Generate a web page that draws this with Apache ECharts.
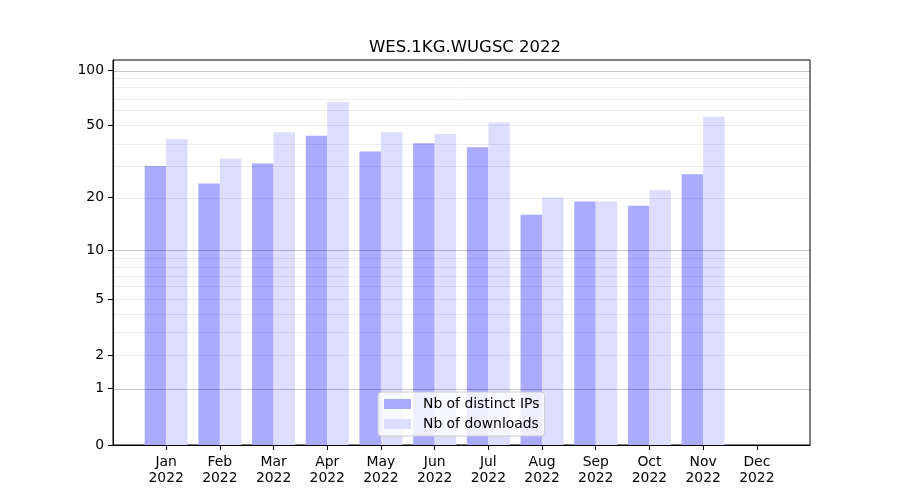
<!DOCTYPE html>
<html>
<head>
<meta charset="utf-8">
<script src="https://cdn.jsdelivr.net/npm/echarts@6/dist/echarts.min.js"></script>
<style>html,body{margin:0;padding:0;background:#fff}#c{width:900px;height:500px}</style>
</head>
<body>
<div id="c"></div>
<script>
const titleText = 'WES.1KG.WUGSC 2022';
const months = ['Jan','Feb','Mar','Apr','May','Jun','Jul','Aug','Sep','Oct','Nov','Dec'];
const year = '2022';
const distinctIPs = [30, 24, 31, 44, 36, 40, 38, 16, 19, 18, 27, 0];
const downloads   = [42, 33, 46, 67, 46, 45, 52, 20, 19, 22, 56, 0];
const yTickLabels = [0, 1, 2, 5, 10, 20, 50, 100];
const majorGrid = [1, 10, 100];
const minorGrid = [2, 3, 4, 5, 6, 7, 8, 9, 20, 30, 40, 50, 60, 70, 80, 90];

// y scale: log10(v + 1)
const t = v => Math.log10(v + 1);
const FONT = 'DejaVu Sans';

const chart = echarts.init(document.getElementById('c'), null, {renderer: 'canvas'});
const gridLines = [];
minorGrid.forEach(v => gridLines.push({yAxis: t(v), lineStyle: {color: 'rgba(0,0,0,0.07)', width: 1, type: 'solid'}}));
majorGrid.forEach(v => gridLines.push({yAxis: t(v), lineStyle: {color: 'rgba(0,0,0,0.22)', width: 1, type: 'solid'}}));

chart.setOption({
  animation: false,
  title: {
    text: titleText, left: 460, top: 34, textAlign: 'center',
    textStyle: {fontFamily: FONT, fontSize: 16.5, fontWeight: 'normal', color: '#000'}
  },
  grid: {left: 113, right: 90, top: 60, bottom: 55, show: true, borderColor: '#000', borderWidth: 1, backgroundColor: 'transparent'},
  legend: {
    orient: 'vertical', left: 378, top: 392,
    data: ['Nb of distinct IPs', 'Nb of downloads'],
    icon: 'rect', itemWidth: 27, itemHeight: 10, itemGap: 6,
    padding: [5, 5, 5, 6],
    backgroundColor: 'rgba(255,255,255,0.8)', borderColor: '#cccccc', borderWidth: 1, borderRadius: 3,
    textStyle: {fontFamily: FONT, fontSize: 13.9, color: '#000', padding: [0, 0, 0, 7]}
  },
  xAxis: {
    type: 'value', min: -0.99, max: 11.99,
    axisLine: {show: true, onZero: false, lineStyle: {color: '#000', width: 1}},
    axisTick: {show: true, length: 5, lineStyle: {color: '#000'}, customValues: months.map((m, i) => i)},
    axisLabel: {
      margin: 9, fontFamily: FONT, fontSize: 13.9, color: '#000', lineHeight: 16,
      customValues: months.map((m, i) => i),
      formatter: v => { const i = Math.round(v); return months[i] + '\n' + year; }
    },
    splitLine: {show: false}
  },
  yAxis: {
    type: 'value', min: 0, max: 2.0577,
    axisLine: {show: true, onZero: false, lineStyle: {color: '#000', width: 1}},
    axisTick: {show: true, length: 5, lineStyle: {color: '#000'}, customValues: yTickLabels.map(t)},
    axisLabel: {
      margin: 9, fontFamily: FONT, fontSize: 13.9, color: '#000',
      customValues: yTickLabels.map(t),
      formatter: val => {
        const f = yTickLabels.find(v => Math.abs(t(v) - val) < 1e-6);
        return f === undefined ? '' : String(f);
      }
    },
    splitLine: {show: false}
  },
  series: [
    {
      name: 'Nb of distinct IPs', type: 'bar', z: 2,
      barWidth: 21.5, barGap: '-100%',
      itemStyle: {color: '#aaaaff'},
      data: distinctIPs.map((v, i) => [i - 0.2, t(v)])
    },
    {
      name: 'Nb of downloads', type: 'bar', z: 2,
      barWidth: 21.5, barGap: '-100%',
      itemStyle: {color: '#ddddff'},
      data: downloads.map((v, i) => [i + 0.2, t(v)])
    },
    {
      name: 'grid', type: 'line', data: [], z: 3, silent: true,
      markLine: {silent: true, symbol: ['none', 'none'], label: {show: false}, animation: false, data: gridLines}
    }
  ]
});
</script>
</body>
</html>
